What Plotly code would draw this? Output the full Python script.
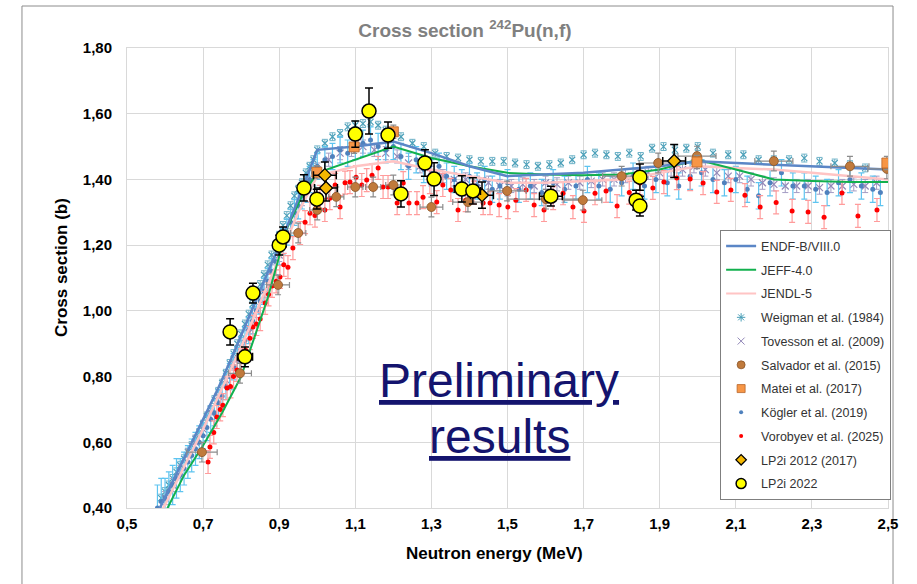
import plotly.graph_objects as go

# ---------------- data ----------------
x_ticks = [0.5, 0.7, 0.9, 1.1, 1.3, 1.5, 1.7, 1.9, 2.1, 2.3, 2.5]
x_ticktext = ["0,5", "0,7", "0,9", "1,1", "1,3", "1,5", "1,7", "1,9", "2,1", "2,3", "2,5"]
y_ticks = [0.4, 0.6, 0.8, 1.0, 1.2, 1.4, 1.6, 1.8]
y_ticktext = ["0,40", "0,60", "0,80", "1,00", "1,20", "1,40", "1,60", "1,80"]

endf_x = [0.58, 0.62, 0.66, 0.70, 0.74, 0.78, 0.82, 0.86, 0.90, 0.94, 0.97, 1.00, 1.10, 1.20, 1.30,
          1.40, 1.50, 1.60, 1.70, 1.80, 1.90, 2.00, 2.10, 2.20, 2.30, 2.40, 2.50]
endf_y = [0.385, 0.48, 0.575, 0.665, 0.765, 0.87, 0.98, 1.09, 1.20, 1.31, 1.40, 1.49, 1.50, 1.515, 1.48,
          1.44, 1.41, 1.415, 1.42, 1.43, 1.44, 1.455, 1.45, 1.445, 1.44, 1.435, 1.43]

jeff_x = [0.60, 0.65, 0.70, 0.75, 0.80, 0.85, 0.87, 0.92, 0.96, 1.00, 1.10, 1.20, 1.30, 1.40, 1.50,
          1.60, 1.70, 1.80, 1.90, 2.00, 2.10, 2.20, 2.30, 2.40, 2.50]
jeff_y = [0.385, 0.50, 0.59, 0.69, 0.80, 0.97, 1.04, 1.25, 1.35, 1.42, 1.46, 1.50, 1.465, 1.44, 1.42,
          1.415, 1.413, 1.415, 1.43, 1.46, 1.43, 1.40, 1.395, 1.392, 1.392]

jendl_x = [0.58, 0.60, 0.70, 0.80, 0.90, 0.95, 1.00, 1.10, 1.20, 1.30, 1.40, 1.50, 1.60, 1.70, 1.80,
           1.90, 2.00, 2.10, 2.20, 2.30, 2.40, 2.50]
jendl_y = [0.37, 0.41, 0.64, 0.89, 1.16, 1.30, 1.41, 1.44, 1.455, 1.43, 1.41, 1.39, 1.39, 1.395, 1.40,
           1.42, 1.44, 1.435, 1.43, 1.42, 1.41, 1.40]

weig_x = [0.59, 0.60, 0.61, 0.62, 0.63, 0.64, 0.65, 0.66, 0.67, 0.68, 0.69, 0.70, 0.71, 0.72, 0.73,
          0.74, 0.75, 0.76, 0.77, 0.78, 0.79, 0.80, 0.81, 0.82, 0.83, 0.84, 0.85, 0.86, 0.87, 0.88,
          0.89, 0.90, 0.91, 0.92, 0.93, 0.94, 0.95, 0.96, 0.97, 0.98, 0.99, 1.00, 1.02, 1.04, 1.06,
          1.08, 1.10, 1.12, 1.14, 1.16, 1.18, 1.20, 1.22, 1.25, 1.28, 1.31, 1.34, 1.37, 1.40, 1.43,
          1.46, 1.49, 1.52, 1.55, 1.58, 1.61, 1.64, 1.67, 1.70, 1.73, 1.76, 1.79, 1.82, 1.85, 1.88,
          1.91, 1.94, 1.97, 2.00, 2.04, 2.08, 2.12, 2.16, 2.20, 2.24, 2.28, 2.32, 2.36, 2.40, 2.44]
weig_y = [0.43, 0.45, 0.47, 0.49, 0.51, 0.53, 0.55, 0.57, 0.59, 0.61, 0.63, 0.655, 0.68, 0.70, 0.73,
          0.755, 0.78, 0.81, 0.84, 0.87, 0.90, 0.93, 0.96, 0.99, 1.02, 1.05, 1.08, 1.11, 1.14, 1.17,
          1.20, 1.23, 1.26, 1.29, 1.32, 1.35, 1.37, 1.39, 1.42, 1.44, 1.46, 1.49, 1.51, 1.53, 1.54,
          1.56, 1.565, 1.57, 1.575, 1.565, 1.55, 1.545, 1.53, 1.51, 1.50, 1.48, 1.47, 1.465, 1.46, 1.455,
          1.455, 1.455, 1.45, 1.445, 1.44, 1.445, 1.45, 1.46, 1.475, 1.48, 1.475, 1.47, 1.48, 1.47, 1.495,
          1.50, 1.49, 1.495, 1.50, 1.48, 1.475, 1.475, 1.46, 1.46, 1.46, 1.465, 1.455, 1.45, 1.445, 1.435]

tov_x = [0.60, 0.62, 0.64, 0.66, 0.68, 0.70, 0.72, 0.74, 0.76, 0.78, 0.80, 0.82, 0.84, 0.86, 0.88,
         0.90, 0.92, 0.94, 0.96, 0.98, 1.00, 1.03, 1.06, 1.09, 1.12, 1.15, 1.18, 1.21, 1.24, 1.27,
         1.30, 1.33, 1.36, 1.39, 1.42, 1.45, 1.48, 1.51, 1.54, 1.57, 1.60, 1.63, 1.66, 1.69, 1.72,
         1.75, 1.78, 1.81, 1.84, 1.87, 1.90, 1.93, 1.96, 1.99, 2.02, 2.05, 2.08, 2.11, 2.14, 2.17,
         2.20, 2.23, 2.26, 2.29, 2.32, 2.35, 2.38, 2.41, 2.44, 2.47]
tov_y = [0.43, 0.47, 0.51, 0.56, 0.60, 0.64, 0.69, 0.74, 0.79, 0.84, 0.89, 0.95, 1.00, 1.06, 1.12,
         1.17, 1.23, 1.29, 1.34, 1.39, 1.43, 1.46, 1.48, 1.49, 1.50, 1.49, 1.48, 1.47, 1.45, 1.44,
         1.42, 1.41, 1.40, 1.40, 1.39, 1.39, 1.38, 1.38, 1.385, 1.38, 1.39, 1.385, 1.39, 1.39, 1.395,
         1.40, 1.40, 1.41, 1.41, 1.42, 1.42, 1.43, 1.43, 1.44, 1.43, 1.42, 1.41, 1.41, 1.40, 1.39,
         1.385, 1.38, 1.38, 1.38, 1.375, 1.38, 1.38, 1.385, 1.38, 1.39]

salv_x = [0.697, 0.797, 0.897, 0.95, 1.00, 1.05, 1.10, 1.147, 1.20, 1.30, 1.396, 1.499, 1.601, 1.698,
          1.80, 1.896, 1.998, 2.20, 2.40, 2.497]
salv_y = [0.57, 0.81, 1.079, 1.237, 1.307, 1.347, 1.377, 1.377, 1.383, 1.316, 1.331, 1.365, 1.34, 1.337,
          1.41, 1.45, 1.471, 1.456, 1.44, 1.432]
salv_dy = [0.03, 0.03, 0.03, 0.03, 0.03, 0.03, 0.03, 0.03, 0.03, 0.03, 0.03, 0.03, 0.03, 0.03,
           0.03, 0.03, 0.03, 0.03, 0.03, 0.03]
salv_dx = [0.04, 0.03, 0.03, 0.02, 0.02, 0.02, 0.02, 0.02, 0.02, 0.03, 0.04, 0.05, 0.10, 0.05,
           0.05, 0.05, 0.05, 0.05, 0.05, 0.05]

matei_x = [0.999, 1.097, 1.20, 1.998, 2.497]
matei_y = [1.422, 1.499, 1.545, 1.453, 1.45]

kog_x = [0.58, 0.59, 0.60, 0.61, 0.62, 0.63, 0.64, 0.65, 0.66, 0.67, 0.68, 0.69, 0.70, 0.71, 0.72,
         0.73, 0.74, 0.75, 0.76, 0.77, 0.78, 0.79, 0.80, 0.81, 0.82, 0.83, 0.84, 0.85, 0.86, 0.87,
         0.88, 0.89, 0.90, 0.91, 0.92, 0.93, 0.94, 0.95, 0.96, 0.97, 0.98, 0.99, 1.00, 1.02, 1.04,
         1.06, 1.08, 1.10, 1.12, 1.14, 1.16, 1.18, 1.20, 1.22, 1.24, 1.26, 1.28, 1.30, 1.32, 1.34,
         1.36, 1.38, 1.40, 1.42, 1.44, 1.46, 1.48, 1.50, 1.53, 1.56, 1.59, 1.62, 1.65, 1.68, 1.71,
         1.74, 1.77, 1.80, 1.83, 1.86, 1.89, 1.92, 1.95, 1.98, 2.01, 2.04, 2.07, 2.10, 2.13, 2.16,
         2.19, 2.22, 2.25, 2.28, 2.31, 2.34, 2.37, 2.40, 2.43, 2.46, 2.48]
kog_y = [0.40, 0.42, 0.43, 0.45, 0.47, 0.49, 0.50, 0.52, 0.54, 0.56, 0.58, 0.60, 0.62, 0.645, 0.67,
         0.69, 0.72, 0.74, 0.77, 0.80, 0.83, 0.85, 0.88, 0.91, 0.94, 0.97, 1.00, 1.03, 1.06, 1.09,
         1.12, 1.15, 1.18, 1.21, 1.24, 1.27, 1.30, 1.32, 1.35, 1.37, 1.40, 1.42, 1.44, 1.46, 1.47,
         1.49, 1.48, 1.50, 1.51, 1.52, 1.50, 1.49, 1.50, 1.47, 1.44, 1.46, 1.43, 1.42, 1.44, 1.41,
         1.40, 1.39, 1.41, 1.38, 1.40, 1.37, 1.38, 1.39, 1.37, 1.38, 1.36, 1.39, 1.37, 1.38, 1.40,
         1.38, 1.37, 1.39, 1.41, 1.38, 1.40, 1.39, 1.38, 1.41, 1.42, 1.40, 1.39, 1.40, 1.37, 1.35,
         1.39, 1.42, 1.38, 1.38, 1.37, 1.36, 1.39, 1.40, 1.38, 1.37, 1.36]
kog_dy = [0.07, 0.07, 0.06, 0.06, 0.06, 0.06, 0.05, 0.05, 0.05, 0.05, 0.05, 0.05, 0.04, 0.04, 0.04,
          0.04, 0.04, 0.04, 0.04, 0.04, 0.04, 0.04, 0.04, 0.04, 0.04, 0.04, 0.04, 0.04, 0.04, 0.04,
          0.04, 0.04, 0.04, 0.04, 0.04, 0.04, 0.04, 0.04, 0.04, 0.04, 0.04, 0.04, 0.04, 0.04, 0.04,
          0.04, 0.04, 0.04, 0.04, 0.04, 0.04, 0.04, 0.04, 0.04, 0.04, 0.04, 0.04, 0.04, 0.04, 0.04,
          0.04, 0.04, 0.04, 0.04, 0.04, 0.04, 0.04, 0.04, 0.04, 0.04, 0.04, 0.04, 0.04, 0.04, 0.04,
          0.04, 0.04, 0.04, 0.04, 0.04, 0.04, 0.04, 0.04, 0.04, 0.04, 0.04, 0.04, 0.04, 0.04, 0.04,
          0.04, 0.04, 0.04, 0.04, 0.04, 0.04, 0.04, 0.04, 0.04, 0.04, 0.04]

voro_x = [0.713, 0.718, 0.728, 0.736, 0.745, 0.752, 0.763, 0.772, 0.780, 0.789, 0.800, 0.812, 0.823,
          0.831, 0.840, 0.850, 0.863, 0.872, 0.881, 0.892, 0.902, 0.912, 0.923, 0.936, 0.955, 0.968,
          0.981, 0.994, 1.007, 1.020, 1.033, 1.047, 1.060, 1.073, 1.086, 1.102, 1.117, 1.130, 1.144,
          1.160, 1.173, 1.186, 1.210, 1.226, 1.241, 1.262, 1.278, 1.296, 1.314, 1.330, 1.351, 1.370,
          1.390, 1.412, 1.436, 1.454, 1.478, 1.501, 1.522, 1.549, 1.570, 1.596, 1.620, 1.646, 1.672,
          1.701, 1.730, 1.759, 1.788, 1.820, 1.848, 1.882, 1.911, 1.945, 1.980, 2.014, 2.050, 2.087,
          2.124, 2.164, 2.206, 2.248, 2.290, 2.332, 2.379, 2.421, 2.471]
voro_y = [0.54, 0.586, 0.63, 0.677, 0.70, 0.713, 0.765, 0.77, 0.80, 0.82, 0.85, 0.88, 0.917,
          0.951, 0.96, 0.975, 1.024, 1.05, 1.076, 1.09, 1.103, 1.14, 1.133, 1.191, 1.237, 1.27,
          1.297, 1.29, 1.347, 1.307, 1.343, 1.383, 1.316, 1.39, 1.392, 1.407, 1.383, 1.398, 1.413,
          1.435, 1.377, 1.377, 1.328, 1.389, 1.328, 1.328, 1.346, 1.392, 1.331, 1.383, 1.368, 1.307,
          1.337, 1.36, 1.328, 1.328, 1.322, 1.316, 1.337, 1.368, 1.322, 1.307, 1.343, 1.358, 1.316,
          1.304, 1.358, 1.365, 1.319, 1.36, 1.389, 1.374, 1.392, 1.404, 1.401, 1.389, 1.362, 1.368,
          1.352, 1.316, 1.33, 1.304, 1.301, 1.285, 1.359, 1.289, 1.307]

lp12_x = [1.02, 1.023, 1.433, 1.938]
lp12_y = [1.413, 1.374, 1.352, 1.456]
lp12_dy = [0.04, 0.04, 0.04, 0.05]
lp12_dx = [0.03, 0.03, 0.03, 0.03]

lp22_x = [0.771, 0.81, 0.831, 0.90, 0.91, 0.965, 0.999, 1.10, 1.136, 1.186, 1.22, 1.283, 1.307,
          1.38, 1.409, 1.614, 1.838, 1.848, 1.848]
lp22_y = [0.936, 0.86, 1.054, 1.20, 1.225, 1.374, 1.34, 1.538, 1.608, 1.535, 1.356, 1.45, 1.401,
          1.371, 1.365, 1.349, 1.337, 1.319, 1.407]
lp22_dy = [0.04, 0.03, 0.03, 0.03, 0.03, 0.04, 0.03, 0.04, 0.07, 0.04, 0.04, 0.04, 0.05,
           0.04, 0.04, 0.03, 0.03, 0.03, 0.04]
lp22_dx = [0.01, 0.02, 0.01, 0.01, 0.01, 0.01, 0.01, 0.01, 0.01, 0.01, 0.01, 0.01, 0.01,
           0.02, 0.02, 0.03, 0.01, 0.01, 0.01]

legend_names = ["ENDF-B/VIII.0", "JEFF-4.0", "JENDL-5", "Weigman et al. (1984)",
                "Tovesson et al. (2009)", "Salvador et al. (2015)", "Matei et al. (2017)",
                "Kögler et al. (2019)", "Vorobyev et al. (2025)", "LP2i 2012 (2017)", "LP2i 2022"]

# ---------------- styles ----------------
FONT = "Liberation Sans, Arial, sans-serif"
C_ENDF, C_JEFF, C_JENDL = "#5b86c6", "#12b04e", "#ffc4c4"
C_WEIG, C_TOV, C_SALV, C_MATEI = "#4a9fb8", "#9288b8", "#c07a3c", "#f79646"
C_KOG, C_VORO, C_LP12, C_LP22 = "#4f81bd", "#ff0000", "#f5b800", "#ffff00"

fig = go.Figure()

fig.add_trace(go.Scatter(
    x=weig_x, y=weig_y, mode="markers", name=legend_names[3], showlegend=False,
    marker=dict(symbol="x-thin-open", size=6, color=C_WEIG, line=dict(width=1.2, color=C_WEIG)),
    error_y=dict(type="constant", value=0.012, color="#6fb3c8", thickness=1, width=3)))
fig.add_trace(go.Scatter(
    x=tov_x, y=tov_y, mode="markers", name=legend_names[4], showlegend=False,
    marker=dict(symbol="x-thin-open", size=7, color=C_TOV, line=dict(width=1.2, color=C_TOV)),
    error_y=dict(type="constant", value=0.02, color="#a49cc4", thickness=1, width=3)))
fig.add_trace(go.Scatter(
    x=kog_x, y=kog_y, mode="markers", name=legend_names[7], showlegend=False,
    marker=dict(symbol="circle", size=5, color=C_KOG),
    error_y=dict(type="data", array=kog_dy, color="#5ec4f0", thickness=1.2, width=3)))
fig.add_trace(go.Scatter(
    x=voro_x, y=voro_y, mode="markers", name=legend_names[8], showlegend=False,
    marker=dict(symbol="circle", size=5, color=C_VORO),
    error_y=dict(type="constant", value=0.035, color="#ff9c9c", thickness=1.2, width=3)))
fig.add_trace(go.Scatter(
    x=jendl_x, y=jendl_y, mode="lines", name=legend_names[2], showlegend=False,
    line=dict(color=C_JENDL, width=2.5)))
fig.add_trace(go.Scatter(
    x=jeff_x, y=jeff_y, mode="lines", name=legend_names[1], showlegend=False,
    line=dict(color=C_JEFF, width=2)))
fig.add_trace(go.Scatter(
    x=endf_x, y=endf_y, mode="lines", name=legend_names[0], showlegend=False,
    line=dict(color=C_ENDF, width=2.5)))
fig.add_trace(go.Scatter(
    x=salv_x, y=salv_y, mode="markers", name=legend_names[5], showlegend=False,
    marker=dict(symbol="circle", size=9, color=C_SALV, line=dict(width=0.8, color="#8a5428")),
    error_y=dict(type="data", array=salv_dy, color="#8c8c8c", thickness=1.2, width=3),
    error_x=dict(type="data", array=salv_dx, color="#8c8c8c", thickness=1.2, width=3)))
fig.add_trace(go.Scatter(
    x=matei_x, y=matei_y, mode="markers", name=legend_names[6], showlegend=False,
    marker=dict(symbol="square", size=10, color=C_MATEI, line=dict(width=0.8, color="#b8652a")),
    error_y=dict(type="constant", value=0.02, color="#8c8c8c", thickness=1.2, width=3),
    error_x=dict(type="constant", value=0.01, color="#8c8c8c", thickness=1.2, width=3)))
fig.add_trace(go.Scatter(
    x=lp12_x, y=lp12_y, mode="markers", name=legend_names[9], showlegend=False,
    marker=dict(symbol="diamond", size=10, color=C_LP12, line=dict(width=1.3, color="#000000")),
    error_y=dict(type="data", array=lp12_dy, color="#000000", thickness=1.5, width=4),
    error_x=dict(type="data", array=lp12_dx, color="#000000", thickness=1.5, width=4)))
fig.add_trace(go.Scatter(
    x=lp22_x, y=lp22_y, mode="markers", name=legend_names[10], showlegend=False,
    marker=dict(symbol="circle", size=14, color=C_LP22, line=dict(width=1.5, color="#000000")),
    error_y=dict(type="data", array=lp22_dy, color="#000000", thickness=1.5, width=4),
    error_x=dict(type="data", array=lp22_dx, color="#000000", thickness=1.5, width=4)))

# legend entries (legend-only traces with compact symbols, as in the reference legend)
legend_styles = [
    dict(mode="lines", line=dict(color=C_ENDF, width=2.5)),
    dict(mode="lines", line=dict(color=C_JEFF, width=2)),
    dict(mode="lines", line=dict(color=C_JENDL, width=2)),
    dict(mode="markers", marker=dict(symbol="asterisk-open", size=7, color=C_WEIG,
                                     line=dict(width=1, color=C_WEIG))),
    dict(mode="markers", marker=dict(symbol="x-thin-open", size=7, color=C_TOV,
                                     line=dict(width=1, color=C_TOV))),
    dict(mode="markers", marker=dict(symbol="circle", size=8, color=C_SALV,
                                     line=dict(width=0.8, color="#8a5428"))),
    dict(mode="markers", marker=dict(symbol="square", size=8, color=C_MATEI,
                                     line=dict(width=0.8, color="#b8652a"))),
    dict(mode="markers", marker=dict(symbol="circle", size=4, color=C_KOG)),
    dict(mode="markers", marker=dict(symbol="circle", size=4, color=C_VORO)),
    dict(mode="markers", marker=dict(symbol="diamond", size=8, color=C_LP12,
                                     line=dict(width=1.3, color="#000000"))),
    dict(mode="markers", marker=dict(symbol="circle", size=10, color=C_LP22,
                                     line=dict(width=1.5, color="#000000"))),
]
for i, (nm, st) in enumerate(zip(legend_names, legend_styles)):
    fig.add_trace(go.Scatter(x=[None], y=[None], name=nm, legendgroup="g%d" % i,
                             showlegend=True, hoverinfo="skip", **st))

axis_common = dict(showgrid=True, gridcolor="#d9d9d9", gridwidth=1, zeroline=False,
                   showline=True, linecolor="#d9d9d9", linewidth=1, mirror=True,
                   ticks="", tickfont=dict(family=FONT, size=15, color="#000000"))

fig.update_layout(
    width=917, height=584,
    margin=dict(l=127, r=29, t=48, b=76),
    paper_bgcolor="#ffffff", plot_bgcolor="#ffffff",
    font=dict(family=FONT),
    title=dict(text="<b>Cross section <sup>242</sup>Pu(n,f)</b>", x=0.507, xref="container",
               xanchor="center", y=0.948, yref="container", yanchor="middle",
               font=dict(family=FONT, size=19, color="#808080")),
    xaxis=dict(range=[0.5, 2.5], tickvals=x_ticks, ticklabelstandoff=2,
               ticktext=["<b>%s</b>" % t for t in x_ticktext], **axis_common),
    yaxis=dict(range=[0.4, 1.8], tickvals=y_ticks, ticklabelstandoff=11,
               ticktext=["<b>%s</b>" % t for t in y_ticktext], **axis_common),
    showlegend=True,
    legend=dict(x=0.779, y=0.604, xanchor="left", yanchor="top",
                bgcolor="#ffffff", bordercolor="#7f7f7f", borderwidth=1.3,
                font=dict(family=FONT, size=12.5, color="#333333"),
                tracegroupgap=4.5, traceorder="grouped", itemwidth=30),
    shapes=[dict(type="rect", xref="paper", yref="paper",
                 x0=-0.138, x1=1.0066, y0=-0.25, y1=1.0913,
                 line=dict(color="#8c8c8c", width=1), fillcolor="rgba(0,0,0,0)", layer="below")],
    annotations=[
        dict(text="<b>Neutron energy (MeV)</b>", xref="paper", yref="paper",
             x=(494 - 127) / 761, y=(508 - 553) / 460, xanchor="center", yanchor="middle",
             showarrow=False, font=dict(family=FONT, size=17, color="#000000")),
        dict(text="<b>Cross section (b)</b>", xref="paper", yref="paper",
             x=(61 - 127) / 761, y=(508 - 268) / 460, xanchor="center", yanchor="middle",
             textangle=-90, showarrow=False, font=dict(family=FONT, size=17, color="#000000")),
        dict(text="<u>Preliminary</u>", xref="paper", yref="paper",
             x=(499 - 127) / 761, y=(508 - 381) / 460, xanchor="center", yanchor="middle",
             showarrow=False, font=dict(family=FONT, size=48, color="#14146e")),
        dict(text="<u>results</u>", xref="paper", yref="paper",
             x=(499 - 127) / 761, y=(508 - 436) / 460, xanchor="center", yanchor="middle",
             showarrow=False, font=dict(family=FONT, size=48, color="#14146e")),
    ],
)

fig.write_html("out.html")
